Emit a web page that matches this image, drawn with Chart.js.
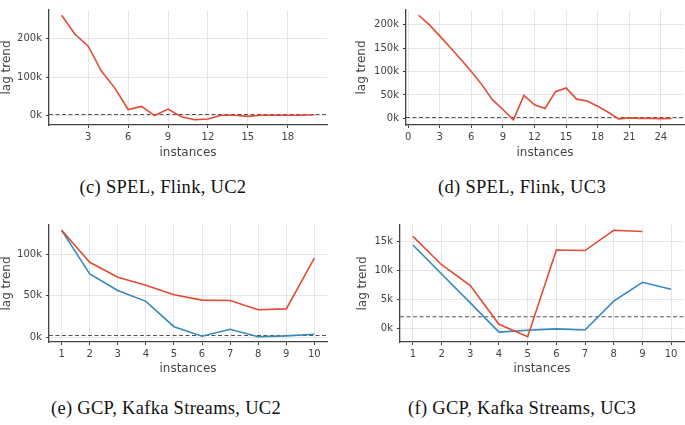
<!DOCTYPE html>
<html>
<head>
<meta charset="utf-8">
<style>
  body { margin: 0; background: #ffffff; }
  .page { position: relative; width: 685px; height: 425px; overflow: hidden; }
  .box { position: absolute; }
  .caption {
    position: absolute; text-align: center;
    font-family: "Liberation Serif", serif; font-size: 18.5px; letter-spacing: 0.3px; color: #111;
    transform: translate(-50%, -50%); white-space: nowrap;
  }
</style>
</head>
<body>
<div class="page">
  <div class="box" style="left:0px;top:0px"><canvas id="chartC" width="340" height="170"></canvas></div>
  <div class="box" style="left:340px;top:0px"><canvas id="chartD" width="345" height="170"></canvas></div>
  <div class="box" style="left:0px;top:215px"><canvas id="chartE" width="340" height="170"></canvas></div>
  <div class="box" style="left:340px;top:215px"><canvas id="chartF" width="345" height="170"></canvas></div>

  <div class="caption" style="left:163px;top:187px">(c) SPEL, Flink, UC2</div>
  <div class="caption" style="left:522px;top:187px">(d) SPEL, Flink, UC3</div>
  <div class="caption" style="left:166px;top:408px">(e) GCP, Kafka Streams, UC2</div>
  <div class="caption" style="left:522px;top:408px">(f) GCP, Kafka Streams, UC3</div>
</div>

<script src="https://cdn.jsdelivr.net/npm/chart.js/dist/chart.umd.min.js"></script>
<script>
// data
const threshold = 2000;

// (c) SPEL, Flink, UC2
const cInstances = [1, 2, 3, 4, 5, 6, 7, 8, 9, 10, 11, 12, 13, 14, 15, 16, 17, 18, 19, 20];
const cLag = [262000, 212000, 181000, 115000, 71000, 15000, 23000, -1000, 16000, -4000,
              -12000, -10000, 0, 0, -3000, 0, 0, 0, 0, 1000];
const cXTicks = [3, 6, 9, 12, 15, 18];
const cYTicks = [0, 100000, 200000];

// (d) SPEL, Flink, UC3
const dInstances = [1, 2, 3, 4, 5, 6, 7, 8, 9, 10, 11, 12, 13, 14, 15, 16, 17, 18, 19, 20, 21, 22, 23, 24, 25];
const dLag = [220000, 200000, 176000, 151000, 126000, 100000, 72000, 40000, 19000, -3000,
              49000, 29000, 21000, 57000, 65000, 41000, 37000, 26000, 13000, -1000,
              1000, 0, 0, -500, 0];
const dXTicks = [0, 3, 6, 9, 12, 15, 18, 21, 24];
const dYTicks = [0, 50000, 100000, 150000, 200000];

// (e) GCP, Kafka Streams, UC2
const eInstances = [1, 2, 3, 4, 5, 6, 7, 8, 9, 10];
const eLagRed = [128500, 90000, 72000, 62500, 51000, 44500, 44000, 33000, 34000, 95000];
const eLagBlue = [128500, 76000, 56000, 43000, 12500, 1000, 9500, 500, 1500, 3500];
const eXTicks = [1, 2, 3, 4, 5, 6, 7, 8, 9, 10];
const eYTicks = [0, 50000, 100000];

// (f) GCP, Kafka Streams, UC3
const fInstances = [1, 2, 3, 4, 5, 6, 7, 8, 9, 10];
const fLagRed = [15900, 11000, 7400, 700, -1450, 13550, 13450, 16950, 16750];
const fLagBlue = [14400, 9400, 4400, -650, -350, -100, -300, 4700, 7950, 6750];
const fXTicks = [1, 2, 3, 4, 5, 6, 7, 8, 9, 10];
const fYTicks = [0, 5000, 10000, 15000];

const RED = '#E24A33';
const BLUE = '#348ABD';

// dashed horizontal line at the threshold, across the whole plot
const thresholdLine = {
  id: 'thresholdLine',
  beforeDatasetsDraw(chart) {
    const {ctx, chartArea, scales} = chart;
    const y = scales.y.getPixelForValue(threshold);
    ctx.save();
    ctx.strokeStyle = '#555555';
    ctx.lineWidth = 1.1;
    ctx.setLineDash([4, 2.5]);
    ctx.beginPath();
    ctx.moveTo(chartArea.left, y);
    ctx.lineTo(chartArea.right, y);
    ctx.stroke();
    ctx.restore();
  }
};

function points(xs, ys) {
  return ys.map((v, i) => ({x: xs[i], y: v}));
}

// matplotlib style 5% margins
function padded(values) {
  const lo = Math.min(...values), hi = Math.max(...values);
  const m = (hi - lo) * 0.05;
  return [lo - m, hi + m];
}

function line(label, xs, ys, color) {
  return {
    label: label,
    data: points(xs, ys),
    borderColor: color,
    backgroundColor: color,
    borderWidth: 1.6,
    pointRadius: 0,
    tension: 0,
    spanGaps: false
  };
}

function makeChart(id, datasets, xs, xTicks, yTicks, lay) {
  const allY = [];
  datasets.forEach(d => d.data.forEach(p => { if (p.y !== null) allY.push(p.y); }));
  const [xMin, xMax] = padded(xs);
  const [yMin, yMax] = padded(allY);

  const tickFont = {family: 'DejaVu Sans', size: 10};
  const titleFont = {family: 'DejaVu Sans', size: 12};

  return new Chart(document.getElementById(id), {
    type: 'line',
    data: {datasets},
    options: {
      responsive: false,
      animation: false,
      devicePixelRatio: 1,
      layout: {padding: {left: 0, top: lay.top, right: lay.right, bottom: 0}},
      plugins: {legend: {display: false}, tooltip: {enabled: false}},
      scales: {
        x: {
          type: 'linear',
          min: xMin,
          max: xMax,
          afterBuildTicks: axis => { axis.ticks = xTicks.map(v => ({value: v})); },
          afterFit: axis => { axis.height = lay.xh; },
          ticks: {font: tickFont, color: '#444444', padding: 3, maxRotation: 0},
          grid: {color: '#e5e5e5', lineWidth: 1, tickLength: 3, tickColor: '#444444', tickWidth: 1},
          border: {display: true, color: '#444444', width: 1.3},
          title: {display: true, text: 'instances', font: titleFont, color: '#444444',
                  padding: {top: 0, bottom: lay.xtp}}
        },
        y: {
          type: 'linear',
          min: yMin,
          max: yMax,
          afterBuildTicks: axis => { axis.ticks = yTicks.map(v => ({value: v})); },
          afterFit: axis => { axis.width = lay.yw; },
          ticks: {font: tickFont, color: '#444444', padding: 4,
                  callback: v => (v / 1000) + 'k'},
          grid: {color: '#e5e5e5', lineWidth: 1, tickLength: 3, tickColor: '#444444', tickWidth: 1},
          border: {display: true, color: '#444444', width: 1.3},
          title: {display: true, text: 'lag trend', font: titleFont, color: '#444444',
                  padding: {top: lay.ytp, bottom: 0}}
        }
      }
    },
    plugins: [thresholdLine]
  });
}

makeChart('chartC', [line('lag', cInstances, cLag, RED)], cInstances, cXTicks, cYTicks,
  {top: 7, right: 13, xh: 45, yw: 49, xtp: 10, ytp: 0});

makeChart('chartD', [line('lag', dInstances, dLag, RED)], dInstances, dXTicks, dYTicks,
  {top: 7, right: 1, xh: 45, yw: 66, xtp: 10, ytp: 15});

makeChart('chartE', [line('red', eInstances, eLagRed, RED), line('blue', eInstances, eLagBlue, BLUE)],
  eInstances, eXTicks, eYTicks,
  {top: 10, right: 13, xh: 43, yw: 49, xtp: 9, ytp: 0});

makeChart('chartF', [line('red', fInstances, fLagRed, RED), line('blue', fInstances, fLagBlue, BLUE)],
  fInstances, fXTicks, fYTicks,
  {top: 9, right: 1, xh: 43, yw: 60, xtp: 9, ytp: 16});
</script>
</body>
</html>
